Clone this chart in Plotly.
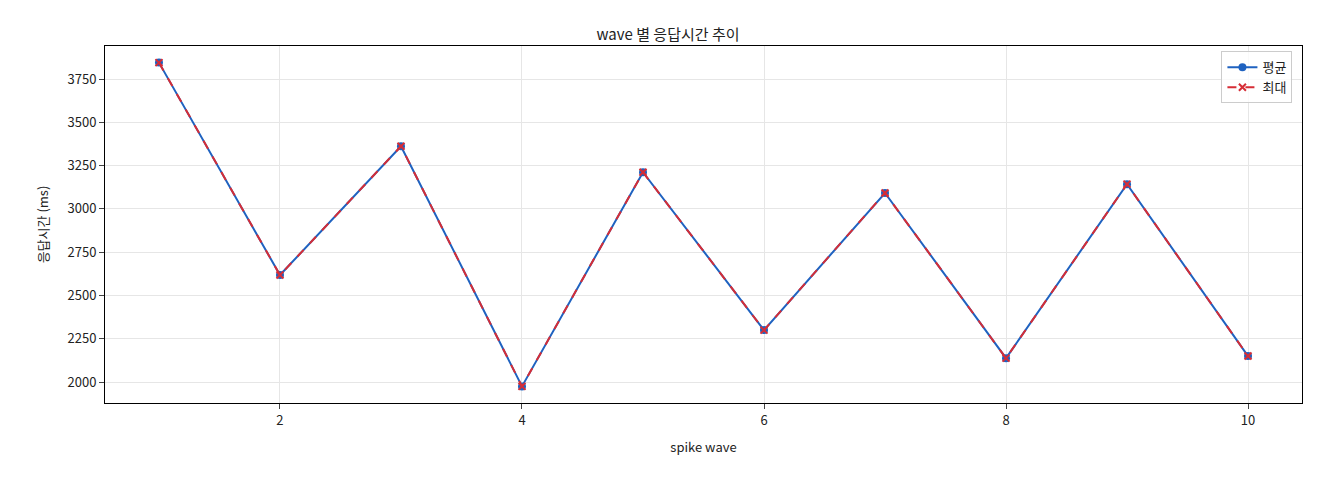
import plotly.graph_objects as go

waves = [1, 2, 3, 4, 5, 6, 7, 8, 9, 10]
avg_ms = [3845, 2618, 3362, 1975, 3212, 2300, 3092, 2138, 3143, 2150]
max_ms = [3845, 2618, 3362, 1975, 3212, 2300, 3092, 2138, 3143, 2150]

fig = go.Figure()
fig.add_trace(go.Scatter(x=waves, y=avg_ms, name="평균", mode="lines+markers",
                         line=dict(color="#1f62c0", width=2), marker=dict(size=8, color="#1f62c0")))
fig.add_trace(go.Scatter(x=waves, y=max_ms, name="최대", mode="lines+markers",
                         line=dict(color="#d62d36", width=2, dash="dash"),
                         marker=dict(size=7, color="#d62d36", symbol="x-thin", line=dict(width=2, color="#d62d36"))))
fig.update_layout(
    width=1320, height=480, margin=dict(l=97, r=26, t=38, b=85),
    paper_bgcolor="white", plot_bgcolor="white",
    font=dict(family="Noto Sans CJK KR", size=13, color="#222"),
    title=dict(text="wave 별 응답시간 추이", x=0.5, xanchor="center", y=0.955, font=dict(size=15)),
    legend=dict(x=0.992, y=0.985, xanchor="right", yanchor="top", bordercolor="#ccc", borderwidth=1,
                bgcolor="rgba(255,255,255,0.8)"),
    showlegend=True,
)
fig.update_xaxes(range=[0.554, 10.446], tickvals=[2, 4, 6, 8, 10], showgrid=True, gridcolor="#e6e6e6",
                 showline=True, linecolor="black", mirror=True, ticks="outside", zeroline=False,
                 title=dict(text="spike wave", font=dict(size=13)))
fig.update_yaxes(range=[1879, 3941], tickvals=[2000, 2250, 2500, 2750, 3000, 3250, 3500, 3750],
                 showgrid=True, gridcolor="#e6e6e6", showline=True, linecolor="black", mirror=True,
                 ticks="outside", zeroline=False, title=dict(text="응답시간 (ms)", font=dict(size=13)))
fig.write_html("out.html")
